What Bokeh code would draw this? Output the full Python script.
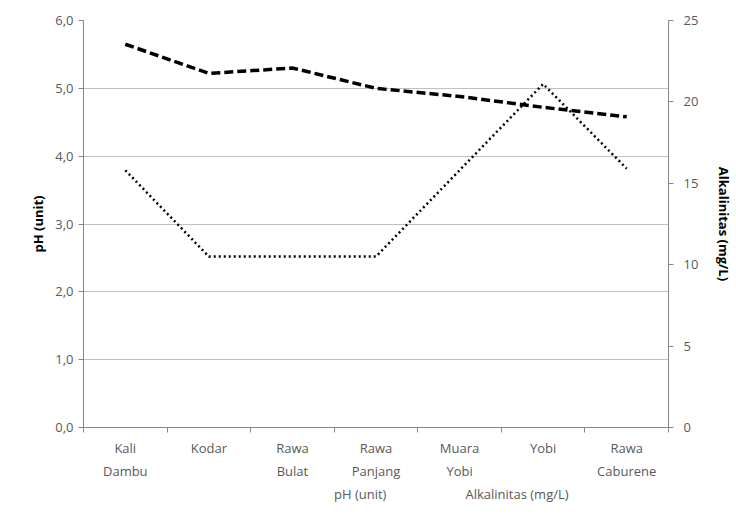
from bokeh.plotting import figure
from bokeh.layouts import column
from bokeh.models import (Range1d, LinearAxis, FixedTicker, CustomJSTickFormatter,
                          Legend, LegendItem, ColumnDataSource)
from bokeh.embed import file_html
from bokeh.resources import INLINE

sites = ["Kali\nDambu", "Kodar", "Rawa\nBulat", "Rawa\nPanjang", "Muara\nYobi", "Yobi", "Rawa\nCaburene"]
ph = [5.65, 5.22, 5.30, 5.00, 4.88, 4.72, 4.58]
alk = [15.8, 10.5, 10.5, 10.5, 15.8, 21.1, 15.9]
ph_ticks = [0, 1, 2, 3, 4, 5, 6]
alk_ticks = [0, 5, 10, 15, 20, 25]

FONT = "Open Sans"
GREY = "#595959"
AXIS = "#868686"

xpos = [i + 0.5 for i in range(len(sites))]
src = ColumnDataSource(dict(x=xpos, ph=ph, alk=alk))

p = figure(width=736, height=504, frame_width=585, frame_height=407,
           output_backend="svg", toolbar_location=None,
           x_range=Range1d(0, len(sites)), y_range=Range1d(0, 6),
           min_border_left=83, min_border_right=68, min_border_top=20, min_border_bottom=0)
p.extra_y_ranges = {"alk": Range1d(0, 25)}
p.outline_line_color = None
p.xgrid.grid_line_color = None
p.ygrid.grid_line_color = "#c0c0c0"
p.ygrid.ticker = FixedTicker(ticks=ph_ticks)

p.line("x", "ph", source=src, line_color="black", line_width=3.5, line_dash="9 4")
p.line("x", "alk", source=src, y_range_name="alk", line_color="black", line_width=2.5, line_dash="2 3")

# x axis
xa = p.xaxis[0]
xa.ticker = FixedTicker(ticks=xpos, minor_ticks=list(range(len(sites) + 1)))
xa.major_label_overrides = {x: s for x, s in zip(xpos, sites)}
xa.major_tick_out = 0
xa.major_tick_in = 0
xa.minor_tick_out = 5
xa.minor_tick_in = 0
xa.minor_tick_line_color = AXIS
xa.axis_line_color = AXIS
xa.major_label_text_font = FONT
xa.major_label_text_font_size = "13px"
xa.major_label_text_color = GREY
xa.major_label_standoff = 6
xa.major_label_text_line_height = 1.3

# left axis
ya = p.yaxis[0]
ya.ticker = FixedTicker(ticks=ph_ticks)
ya.formatter = CustomJSTickFormatter(code="return tick.toFixed(1).replace('.', ',');")
ya.axis_label = "pH (unit)"
ya.axis_label_text_font = FONT
ya.axis_label_text_font_style = "bold"
ya.axis_label_text_font_size = "13px"
ya.axis_label_text_color = "black"
ya.major_label_text_font = FONT
ya.major_label_text_font_size = "13px"
ya.major_label_text_color = GREY
ya.axis_line_color = AXIS
ya.major_tick_line_color = AXIS
ya.major_tick_out = 5
ya.major_tick_in = 0
ya.minor_tick_line_color = None

# right axis
ra = LinearAxis(y_range_name="alk", ticker=FixedTicker(ticks=alk_ticks))
ra.axis_label = "Alkalinitas (mg/L)"
ra.axis_label_text_font = FONT
ra.axis_label_text_font_style = "bold"
ra.axis_label_text_font_size = "13px"
ra.axis_label_text_color = "black"
ra.axis_label_standoff = 14
if hasattr(ra, "axis_label_orientation"):
    ra.axis_label_orientation = "vertical"
ra.major_label_text_font = FONT
ra.major_label_text_font_size = "13px"
ra.major_label_text_color = GREY
ra.axis_line_color = AXIS
ra.major_tick_line_color = AXIS
ra.major_tick_out = 5
ra.major_tick_in = 0
ra.minor_tick_line_color = None
ra.major_label_standoff = 10
p.add_layout(ra, "right")

# separate strip below the chart that holds the legend
leg = figure(width=736, height=27, output_backend="svg", toolbar_location=None,
             x_range=Range1d(0, 1), y_range=Range1d(0, 1),
             x_axis_location=None, y_axis_location=None,
             min_border_left=0, min_border_right=0, min_border_top=0, min_border_bottom=0)
leg.outline_line_color = None
leg.grid.grid_line_color = None
l1 = leg.line(x=[], y=[], line_color="black", line_width=3.5, line_dash="9 4")
l2 = leg.line(x=[], y=[], line_color="black", line_width=2.5, line_dash="2 3")
legend = Legend(items=[LegendItem(label="pH (unit)", renderers=[l1]),
                       LegendItem(label="Alkalinitas (mg/L)", renderers=[l2])],
                orientation="horizontal", location=(197, 6),
                label_text_font=FONT, label_text_font_size="13px", label_text_color=GREY,
                border_line_color=None, background_fill_alpha=0,
                glyph_width=50, spacing=25, padding=0, margin=0, label_standoff=4,
                label_height=14, glyph_height=14)
leg.add_layout(legend, "center")

open("out.html", "w").write(file_html(column(p, leg, spacing=0), INLINE))
